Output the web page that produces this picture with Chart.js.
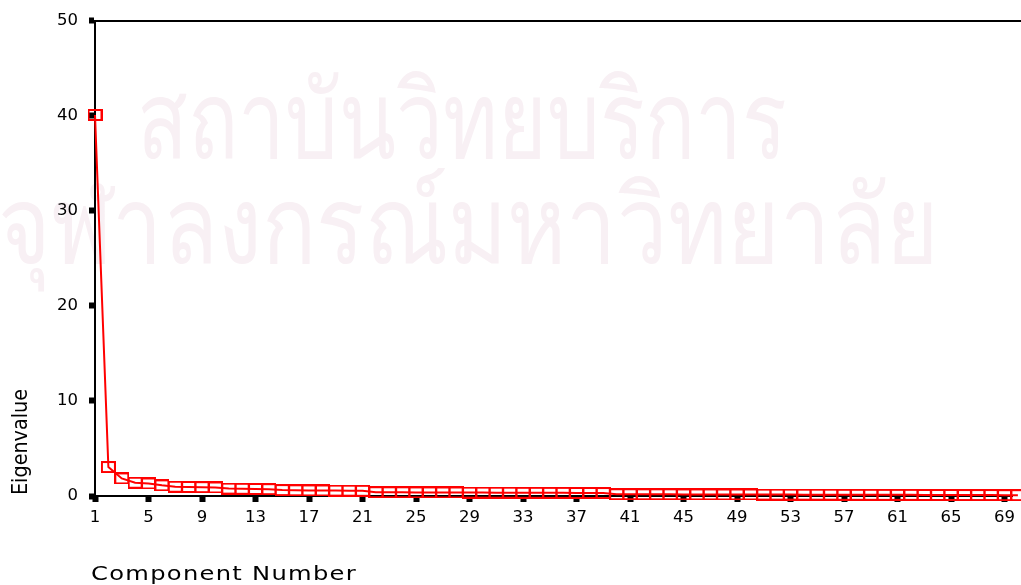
<!DOCTYPE html>
<html>
<head>
<meta charset="utf-8">
<script src="https://cdn.jsdelivr.net/npm/chart.js@4.4.0/dist/chart.umd.min.js"></script>
<style>
  html, body { margin: 0; padding: 0; background: #fff; }
  #wrap { width: 1021px; height: 585px; position: relative; }
</style>
</head>
<body>
<div id="wrap"><canvas id="scree"></canvas></div>
<script>
// valores propios (eigenvalues), componente 1..70
const eigenvalues = [
  40.1, 3.05, 1.85, 1.40, 1.32, 1.12, 0.98, 0.95, 0.93, 0.90,
  0.78, 0.76, 0.74, 0.72, 0.62, 0.60, 0.59, 0.58, 0.57, 0.56,
  0.55, 0.40, 0.39, 0.39, 0.38, 0.38, 0.37, 0.37, 0.36, 0.36,
  0.35, 0.35, 0.34, 0.34, 0.33, 0.33, 0.32, 0.32, 0.31, 0.19,
  0.19, 0.18, 0.18, 0.18, 0.17, 0.17, 0.17, 0.16, 0.16, 0.16,
  0.15, 0.15, 0.15, 0.14, 0.14, 0.14, 0.13, 0.13, 0.13, 0.12,
  0.12, 0.12, 0.11, 0.11, 0.11, 0.10, 0.10, 0.10, 0.09, 0.09
];
const xTicks = [1, 5, 9, 13, 17, 21, 25, 29, 33, 37, 41, 45, 49, 53, 57, 61, 65, 69];
const yTicks = [0, 10, 20, 30, 40, 50];
const xTitle = 'Component Number';
const yTitle = 'Eigenvalue';
const watermark = ['สถาบันวิทยบริการ', 'จุฬาลงกรณ์มหาวิทยาลัย'];

// marcador rectangular hueco (mas ancho que alto)
function hollowBox() {
  const c = document.createElement('canvas');
  c.width = 15; c.height = 12;
  const g = c.getContext('2d');
  g.strokeStyle = '#ff0000';
  g.lineWidth = 2;
  g.strokeRect(1, 1, 13, 10);
  return c;
}

// texto escalado horizontalmente hasta un ancho dado
function textoAncho(ctx, txt, x, y, ancho) {
  const w = ctx.measureText(txt).width;
  ctx.save();
  ctx.translate(x, y);
  ctx.scale(ancho / w, 1);
  ctx.fillText(txt, 0, 0);
  ctx.restore();
}

const puntos = eigenvalues.map((v, i) => ({ x: i + 1, y: v }));

const decor = {
  id: 'decor',
  beforeDraw(chart) {
    const ctx = chart.ctx;
    ctx.save();
    ctx.fillStyle = '#fff';
    ctx.fillRect(0, 0, chart.width, chart.height);
    // marca de agua
    ctx.fillStyle = '#f8f0f4';
    ctx.textBaseline = 'alphabetic';
    ctx.font = '108px "Noto Sans", sans-serif';
    textoAncho(ctx, watermark[0], 137, 158, 650);
    textoAncho(ctx, watermark[1], -2, 263, 940);
    ctx.restore();
  },
  afterDraw(chart) {
    const ctx = chart.ctx;
    const a = chart.chartArea;
    ctx.save();
    // linea superior del marco
    ctx.strokeStyle = '#000';
    ctx.lineWidth = 2;
    ctx.beginPath();
    ctx.moveTo(a.left, a.top);
    ctx.lineTo(chart.width, a.top);
    ctx.stroke();
    // titulos de ejes
    ctx.fillStyle = '#000';
    ctx.textAlign = 'left';
    ctx.textBaseline = 'alphabetic';
    ctx.font = '19px "DejaVu Sans", sans-serif';
    ctx.letterSpacing = '1px';
    textoAncho(ctx, xTitle, 91, 580, 266);
    ctx.letterSpacing = '0px';
    ctx.font = '21px "DejaVu Sans", sans-serif';
    ctx.translate(27, 495);
    ctx.rotate(-Math.PI / 2);
    textoAncho(ctx, yTitle, 0, 0, 106);
    ctx.restore();
  }
};

new Chart(document.getElementById('scree'), {
  type: 'line',
  data: {
    datasets: [{
      data: puntos,
      borderColor: '#ff0000',
      borderWidth: 2,
      tension: 0,
      pointStyle: hollowBox(),
      pointRadius: 7,
      clip: false
    }]
  },
  options: {
    responsive: true,
    maintainAspectRatio: false,
    animation: false,
    events: [],
    layout: { autoPadding: false, padding: { top: 20, right: 0, left: 0, bottom: 0 } },
    plugins: { legend: { display: false }, tooltip: { enabled: false } },
    scales: {
      x: {
        type: 'linear',
        min: 1,
        max: 69.6,
        afterBuildTicks(s) { s.ticks = xTicks.map(v => ({ value: v })); },
        afterFit(s) { s.height = 89; },
        border: { color: '#000', width: 2 },
        grid: { drawOnChartArea: false, tickLength: 6, tickWidth: 6, tickColor: '#000' },
        ticks: {
          autoSkip: false, maxRotation: 0, padding: 6, color: '#000',
          font: { family: '"DejaVu Sans", sans-serif', size: 16.5 }
        },
        title: { display: false }
      },
      y: {
        min: 0,
        max: 50,
        afterBuildTicks(s) { s.ticks = yTicks.map(v => ({ value: v })); },
        afterFit(s) { s.width = 95; },
        border: { color: '#000', width: 2 },
        grid: { drawOnChartArea: false, tickLength: 6, tickWidth: 6, tickColor: '#000' },
        ticks: {
          padding: 11, color: '#000',
          font: { family: '"DejaVu Sans", sans-serif', size: 16.5 }
        },
        title: { display: false }
      }
    }
  },
  plugins: [decor]
});
</script>
</body>
</html>
